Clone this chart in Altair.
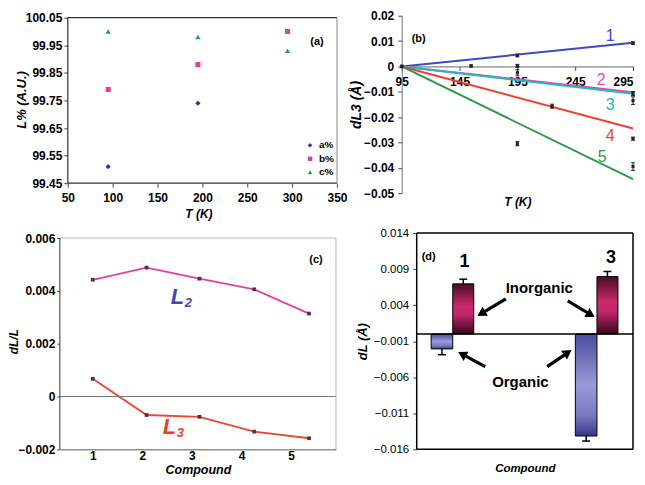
import math
import altair as alt
import pandas as pd

FONT = "Liberation Sans"

# ---------------- panel (a): L% vs T ----------------
a_T = [95, 195, 295]
a_series = ["a%", "b%", "c%"]
a_a = [99.51, 99.74, None]
a_b = [99.79, 99.88, 100.00]
a_c = [100.00, 99.98, 99.93]
a_xticks = [50, 100, 150, 200, 250, 300, 350]
a_yticks = [99.45, 99.55, 99.65, 99.75, 99.85, 99.95, 100.05]

# ---------------- panel (b): dL3 vs T ----------------
b_series = ["1", "2", "3", "4", "5"]
b_fit_T = [95, 295]
b_fit_start = [0.0, 0.0, 0.0, 0.0, 0.0]
b_fit_end = [0.0093, -0.0102, -0.0108, -0.0245, -0.0445]
b_pt_T = [95, 195, 295, 195, 295, 195, 295, 155, 225, 295, 195, 295]
b_pt_val = [0.0, 0.0043, 0.0092, -0.0025, -0.0107, 0.0002, -0.0135,
            0.0002, -0.0157, -0.0285, -0.0305, -0.0395]
b_pt_err = [0.0005, 0.0005, 0.0005, 0.0012, 0.0008, 0.0006, 0.0015,
            0.0004, 0.0008, 0.0006, 0.0008, 0.0015]
b_xticks = [95, 145, 195, 245, 295]
b_yticks = [0.02, 0.01, 0.0, -0.01, -0.02, -0.03, -0.04, -0.05]

# ---------------- panel (c): dL/L vs compound ----------------
c_x = [1.0, 2.085, 3.151, 4.256, 5.362]
c_L2 = [0.00442, 0.00488, 0.00446, 0.00406, 0.00314]
c_L3 = [0.00067, -0.00070, -0.00077, -0.00133, -0.00158]
c_xticks = [1, 2, 3, 4, 5]
c_yticks = [-0.002, 0.0, 0.002, 0.004, 0.006]

# ---------------- panel (d): dL bars ----------------
d_compound = [1, 3]
d_organic = [-0.00207, -0.01415]
d_organic_err = [0.0008, 0.0007]
d_inorganic = [0.00695, 0.00797]
d_inorganic_err = [0.00065, 0.0007]
d_yticks = [0.014, 0.009, 0.004, -0.001, -0.006, -0.011, -0.016]
d_arrow_tail_x = [1.736, 2.595, 1.45, 2.31]
d_arrow_tail_y = [0.00488, 0.0046, -0.00452, -0.00452]
d_arrow_tip_x = [1.30, 3.005, 1.04, 2.677]
d_arrow_tip_y = [0.00225, 0.00212, -0.00231, -0.00203]

# ---------------- styles ----------------
A_COLORS = ["#2e3192", "#e23f9b", "#17a06e"]
A_SHAPES = ["diamond", "square", "triangle-up"]
B_COLORS = ["#3a4cc2", "#e54aa8", "#22b6c6", "#f23f2e", "#2c9a4e"]
C_COLORS = ["#e2409e", "#f2442a"]
ONE = pd.DataFrame({"k": [0]})
RW = 232  # right-column plot width


def ax(**kw):
    base = dict(grid=False, labelFont=FONT, titleFont=FONT, labelColor="black",
                titleColor="black", labelFontSize=12, labelFontWeight="bold",
                titleFontSize=12, titleFontWeight="bold", titleFontStyle="italic",
                tickColor="#444", domainColor="#444", labelOverlap=False,
                labelFlush=False, tickCount=40)
    base.update(kw)
    return alt.Axis(**base)


def txt(text, x, y, size, color="black", weight="bold", style="normal"):
    return alt.Chart(ONE).mark_text(
        text=text, fontSize=size, fontWeight=weight, fontStyle=style, color=color,
        font=FONT, align="center", baseline="middle"
    ).encode(x=alt.value(x), y=alt.value(y))


def rules(df, xs, ys, color, width=1.0):
    enc = dict(x=alt.X("x:Q", scale=xs), y=alt.Y("y:Q", scale=ys))
    if "x2" in df:
        enc["x2"] = "x2:Q"
    if "y2" in df:
        enc["y2"] = "y2:Q"
    return alt.Chart(df).mark_rule(color=color, strokeWidth=width).encode(**enc)


def hrule(df, ys, color, width=1.0):
    return alt.Chart(df).mark_rule(color=color, strokeWidth=width).encode(
        y=alt.Y("y:Q", scale=ys))


# ======================= panel (a) =======================
A_PX = 270 / 300.0
A_PY = 166 / 0.6
AXS = alt.Scale(domain=[a_xticks[0] - 8 / A_PX, a_xticks[-1]], nice=False, zero=False)
AYS = alt.Scale(domain=[a_yticks[0], a_yticks[-1] + 2 / A_PY], nice=False, zero=False)
x0, x1, y0, y1 = a_xticks[0], a_xticks[-1], a_yticks[0], a_yticks[-1]
a_frame_dark = pd.DataFrame({"x": [x0, x0, x0], "x2": [x1, x0, x1],
                             "y": [y0, y0, y1], "y2": [y0, y1, y1]})
a_frame_light = pd.DataFrame({"x": [x1], "x2": [x1], "y": [y0], "y2": [y1]})

dfa = pd.DataFrame({"x": a_T * 3, "y": a_a + a_b + a_c,
                    "s": [s for s in a_series for _ in a_T]}).dropna()
LEG_A = alt.Legend(title=None, orient="none", legendX=246, legendY=125,
                   labelFontSize=10, labelFontWeight="bold", labelFont=FONT,
                   labelColor="black", symbolSize=20, rowPadding=3.5,
                   labelOffset=4, padding=0)
pa_pts = alt.Chart(dfa).mark_point(filled=True, size=26, opacity=1).encode(
    x=alt.X("x:Q", scale=AXS, axis=ax(values=a_xticks, format="d", title="T (K)", domain=False,
                                      tickSize=4, labelPadding=5, titleY=30,
                                      titleBaseline="middle")),
    y=alt.Y("y:Q", scale=AYS, axis=ax(values=a_yticks, format=".2f", title="L% (A.U.)",
                                      domain=False, tickSize=4, labelPadding=2, offset=-8,
                                      titleX=-46, titleAngle=270, titleBaseline="middle",
                                      titleFontSize=13)),
    color=alt.Color("s:N", scale=alt.Scale(domain=a_series, range=A_COLORS), legend=LEG_A),
    shape=alt.Shape("s:N", scale=alt.Scale(domain=a_series, range=A_SHAPES), legend=LEG_A),
)
panel_a = alt.layer(
    pa_pts,
    rules(a_frame_dark, AXS, AYS, "#333", 1.2),
    rules(a_frame_light, AXS, AYS, "#888", 1.0),
    txt("(a)", 258, 26, 11),
).properties(width=278, height=168)

# ======================= panel (b) =======================
B_H = 178
BXS = alt.Scale(domain=[b_xticks[0], b_xticks[-1]], nice=False, zero=False)
BYS = alt.Scale(domain=[b_yticks[-1], b_yticks[0]], nice=False, zero=False)
zero_off = -B_H * (0 - b_yticks[-1]) / (b_yticks[0] - b_yticks[-1])
fit_df = pd.DataFrame({"x": [b_fit_T[0]] * 5 + [b_fit_T[1]] * 5,
                       "y": b_fit_start + b_fit_end, "s": b_series * 2})
pb_fit = alt.Chart(fit_df).mark_line(strokeWidth=2).encode(
    x=alt.X("x:Q", scale=BXS, axis=ax(values=b_xticks, format="d", title="T (K)", offset=zero_off,
                                      tickSize=4, labelPadding=6, domainColor="#666",
                                      titleY=136, titleBaseline="middle",
                                      labelAlign=alt.ExprRef(
                                          expr=f"datum.value >= {b_xticks[-1]} ? 'right' : 'center'"))),
    y=alt.Y("y:Q", scale=BYS, axis=ax(values=b_yticks,
                                      labelExpr="datum.value == 0 ? '0' : format(datum.value, '.2f')",
                                      title="dL3 (Å)", tickSize=4, labelPadding=4, titleX=-45,
                                      titleAngle=270, titleBaseline="middle", titleFontSize=14,
                                      domainColor="#777")),
    color=alt.Color("s:N", scale=alt.Scale(domain=b_series, range=B_COLORS), legend=None),
)
eb = pd.DataFrame({"x": b_pt_T, "v": b_pt_val, "e": b_pt_err})
eb_bar = pd.DataFrame({"x": eb.x, "y": eb.v - eb.e, "y2": eb.v + eb.e})
eb_cap = pd.DataFrame({"x": list(eb.x - 1.7) * 2, "x2": list(eb.x + 1.7) * 2,
                       "y": list(eb.v - eb.e) + list(eb.v + eb.e)})
eb_cap["y2"] = eb_cap["y"]
pb_sq = alt.Chart(pd.DataFrame({"x": eb.x, "y": eb.v})).mark_square(size=10, color="#222", opacity=1).encode(
    x=alt.X("x:Q", scale=BXS), y=alt.Y("y:Q", scale=BYS))
b_lbl_pos = [(209, 20), (200, 64), (209, 90), (209, 121), (201, 142)]
panel_b = alt.layer(
    pb_fit,
    rules(eb_bar, BXS, BYS, "#222", 1.0),
    rules(eb_cap, BXS, BYS, "#222", 1.0),
    pb_sq,
    txt("(b)", 17, 23, 11),
    *[txt(s, p[0], p[1], 16, color=c, weight="normal") for s, p, c in zip(b_series, b_lbl_pos, B_COLORS)],
).properties(width=RW, height=B_H)

# ======================= panel (c) =======================
C_PX = 49.75
C_PY = 212 / 0.008
c_x0 = c_xticks[0] - 33 / C_PX
cx1 = c_x0 + 277 / C_PX
CXS = alt.Scale(domain=[c_x0, cx1], nice=False, zero=False)
CYS = alt.Scale(domain=[c_yticks[0], c_yticks[-1] + 5 / C_PY], nice=False, zero=False)
cdf = pd.DataFrame({"x": c_x * 2, "y": c_L2 + c_L3, "s": ["L2"] * 5 + ["L3"] * 5})
pc_line = alt.Chart(cdf).mark_line(strokeWidth=1.8).encode(
    x=alt.X("x:Q", scale=CXS, axis=ax(values=c_xticks, format="d", title="Compound", ticks=False,
                                      labelPadding=1, domainColor="#555", titleY=20,
                                      titleBaseline="middle", titleFontSize=12.5)),
    y=alt.Y("y:Q", scale=CYS, axis=ax(values=c_yticks,
                                      labelExpr="datum.value == 0 ? '0' : format(datum.value, '.3f')",
                                      title="dL/L", domain=False, tickSize=3, labelPadding=2,
                                      titleX=-46, titleAngle=270, titleBaseline="middle")),
    color=alt.Color("s:N", scale=alt.Scale(domain=["L2", "L3"], range=C_COLORS), legend=None),
)
pc_pts = alt.Chart(cdf).mark_square(size=14, color="#5a2a48", opacity=1).encode(
    x=alt.X("x:Q", scale=CXS), y=alt.Y("y:Q", scale=CYS))
c_top = pd.DataFrame({"y": [c_yticks[-1]]})
c_right = pd.DataFrame({"x": [cx1], "y": [c_yticks[0]], "y2": [c_yticks[-1]]})
c_left = pd.DataFrame({"x": [c_x0], "y": [c_yticks[0]], "y2": [c_yticks[-1]]})
c_zero = pd.DataFrame({"y": [0.0]})

panel_c = alt.layer(
    pc_line,
    hrule(c_zero, CYS, "#777", 1.2),
    hrule(c_top, CYS, "#b8b8b8", 1.0),
    rules(c_right, CXS, CYS, "#b8b8b8", 1.0),
    rules(c_left, CXS, CYS, "#555", 1.2),
    pc_pts,
    txt("(c)", 257, 27, 11),
    txt("L", 118, 64, 22, color="#3a4ab8", style="italic"),
    txt("2", 129, 70, 13, color="#3a4ab8", style="italic"),
    txt("L", 110, 195, 22, color="#f03c28", style="italic"),
    txt("3", 121, 201, 13, color="#f03c28", style="italic"),
).properties(width=277, height=217)

# ======================= panel (d) =======================
D_PX = (RW - 15) / 3.0
D_PY = 217 / 0.030
DXS = alt.Scale(domain=[0.5 - 15 / D_PX, 3.5], nice=False, zero=False)
DYS = alt.Scale(domain=[d_yticks[-1], d_yticks[0]], nice=False, zero=False)
BW = 0.30
comp = pd.Series(d_compound, dtype=float)
org = pd.DataFrame({"x": comp - BW, "x2": comp, "y": d_organic, "y2": 0.0})
ino = pd.DataFrame({"x": comp, "x2": comp + BW * 0.97, "y": d_inorganic, "y2": 0.0})

GRAD_I = alt.LinearGradient(gradient="linear", x1=0, x2=0, y1=0, y2=1, stops=[
    alt.GradientStop(offset=0, color="#4a0c24"), alt.GradientStop(offset=0.45, color="#cc2a6c"),
    alt.GradientStop(offset=0.6, color="#c4266a"), alt.GradientStop(offset=1, color="#38081c")])
GRAD_O = alt.LinearGradient(gradient="linear", x1=0, x2=0, y1=0, y2=1, stops=[
    alt.GradientStop(offset=0, color="#4a4aa0"), alt.GradientStop(offset=0.5, color="#9a9ad8"),
    alt.GradientStop(offset=0.8, color="#7878c0"), alt.GradientStop(offset=1, color="#353588")])


def bars(df, grad):
    return alt.Chart(df).mark_rect(fill=grad, stroke="black", strokeWidth=1).encode(
        x=alt.X("x:Q", scale=DXS), x2="x2:Q",
        y=alt.Y("y:Q", scale=DYS), y2="y2:Q")


oc = comp - BW / 2
ic = comp + BW * 0.97 / 2
o_end = [v - e for v, e in zip(d_organic, d_organic_err)]
i_end = [v + e for v, e in zip(d_inorganic, d_inorganic_err)]
err_bar = pd.DataFrame({"x": list(oc) + list(ic), "y": d_organic + d_inorganic, "y2": o_end + i_end})
err_cap = pd.DataFrame({"x": list(oc - 0.055) + list(ic - 0.055), "x2": list(oc + 0.055) + list(ic + 0.055),
                        "y": o_end + i_end, "y2": o_end + i_end})
x_lo, x_hi, y_lo, y_hi = 0.5, 3.5, d_yticks[-1], d_yticks[0]
d_frame = pd.DataFrame({"x": [x_lo, x_hi, x_lo, x_lo, x_lo], "x2": [x_lo, x_hi, x_hi, x_hi, x_hi],
                        "y": [y_lo, y_lo, y_hi, y_lo, 0.0], "y2": [y_hi, y_hi, y_hi, y_lo, 0.0]})

HEAD = 0.78
arr = pd.DataFrame({"x": d_arrow_tail_x, "y": d_arrow_tail_y, "px": d_arrow_tip_x, "py": d_arrow_tip_y})
arr["x2"] = arr.x + HEAD * (arr.px - arr.x)
arr["y2"] = arr.y + HEAD * (arr.py - arr.y)
arr["ang"] = [math.degrees(math.atan2((p - t) * D_PX, (q - s) * D_PY)) % 360
              for t, s, p, q in zip(arr.x, arr.y, arr.px, arr.py)]
arrow_shaft = alt.Chart(arr).mark_rule(color="black", strokeWidth=3.2).encode(
    x=alt.X("x:Q", scale=DXS), x2="x2:Q",
    y=alt.Y("y:Q", scale=DYS), y2="y2:Q")
arrow_head = alt.Chart(arr).mark_point(shape="triangle-up", filled=True, size=110, color="black", opacity=1).encode(
    x=alt.X("x2:Q", scale=DXS), y=alt.Y("y2:Q", scale=DYS),
    angle=alt.Angle("ang:Q", scale=None))

pd_axis_layer = alt.Chart(pd.DataFrame({"x": [x_lo], "y": [0.0]})).mark_point(opacity=0).encode(
    x=alt.X("x:Q", scale=DXS, axis=alt.Axis(title="Compound", labels=False, ticks=False, domain=False,
                                            grid=False, titleFont=FONT, titleFontSize=11.5,
                                            titleFontWeight="bold", titleFontStyle="italic",
                                            titleColor="black", titleY=19, titleX=15 + (RW - 15) / 2,
                                            titleBaseline="middle")),
    y=alt.Y("y:Q", scale=DYS, axis=ax(values=d_yticks, format=".3f", title="dL (Å)",
                                      labelFontWeight="normal", labelFontSize=11.5, domain=False,
                                      tickSize=4, labelPadding=4, offset=-15, titleX=-54,
                                      titleAngle=270, titleBaseline="middle", titleFontSize=13)),
)
panel_d = alt.layer(
    pd_axis_layer,
    bars(org, GRAD_O),
    bars(ino, GRAD_I),
    rules(err_bar, DXS, DYS, "black", 1.5),
    rules(err_cap, DXS, DYS, "black", 1.5),
    rules(d_frame, DXS, DYS, "black", 1.5),
    arrow_shaft,
    arrow_head,
    txt("(d)", 27, 24, 11),
    txt("1", 63, 29, 18),
    txt("3", 210, 25, 18),
    txt("Inorganic", 138, 55, 15),
    txt("Organic", 119, 149, 15),
).properties(width=RW, height=217)

chart = alt.concat(
    panel_a, panel_b, panel_c, panel_d,
    columns=2, spacing={"row": 40, "column": 65}, bounds="flush",
).resolve_scale(
    color="independent", shape="independent"
).resolve_legend(
    color="independent", shape="independent"
).properties(
    padding={"left": 0, "top": 1, "right": 0, "bottom": 0}
).configure(font=FONT).configure_view(stroke=None).configure_axis(
    labelOverlap=False, labelFlush=False
)

chart.save("out.html", embed_options={"renderer": "svg", "actions": False})
